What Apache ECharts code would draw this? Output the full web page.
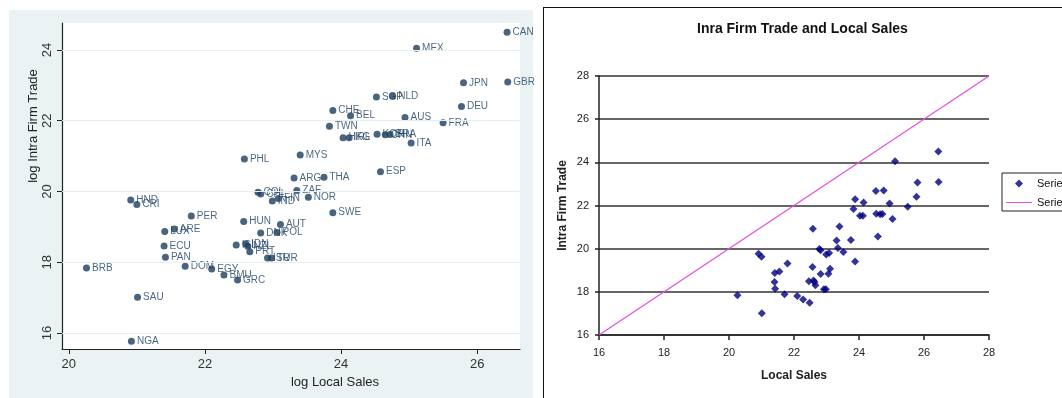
<!DOCTYPE html>
<html lang="en">
<head>
    <meta charset="UTF-8">
    <title>Intra Firm Trade and Local Sales</title>
    <script src="https://cdn.jsdelivr.net/npm/echarts@6/dist/echarts.min.js"></script>
    <style>
        * {
            margin: 0;
            padding: 0;
        }

        html,
        body {
            width: 1062px;
            height: 398px;
            background: #fff;
            overflow: hidden;
        }

        .stata-bg {
            position: absolute;
            left: 9px;
            top: 10px;
            width: 524px;
            height: 392px;
            background: #eaf2f3;
        }

        .excel-frame {
            position: absolute;
            left: 543px;
            top: 7px;
            width: 540px;
            height: 410px;
            border: 1px solid #111;
            background: #fff;
        }

        #main {
            position: absolute;
            left: 0;
            top: 0;
            width: 1062px;
            height: 398px;
        }
    </style>
</head>

<body>
    <div class="stata-bg"></div>
    <div class="excel-frame"></div>
    <div id="main"></div>
    <script>
        // (log values)
        var countries = ['CAN', 'MEX', 'JPN', 'GBR', 'SGP', 'NLD', 'DEU', 'CHE', 'BEL', 'AUS',
            'FRA', 'TWN', 'HKG', 'IRL', 'KOR', 'CHN', 'BRA', 'ITA', 'PHL', 'MYS',
            'ESP', 'ARG', 'THA', 'ZAF', 'COL', 'CHL', 'IND', 'FIN', 'NOR', 'HND',
            'CRI', 'SWE', 'PER', 'HUN', 'AUT', 'ARE', 'LUX', 'DNK', 'POL', 'ECU',
            'ISL', 'IDN', 'NZL', 'PRT', 'PAN', 'ISR', 'TUR', 'BRB', 'DOM', 'EGY',
            'BMU', 'GRC', 'SAU', 'NGA'];
        var localSales = [26.44, 25.11, 25.80, 26.45, 24.52, 24.76, 25.77, 23.88, 24.14, 24.94,
            25.50, 23.83, 24.03, 24.12, 24.53, 24.65, 24.72, 25.03, 22.58, 23.40,
            24.58, 23.31, 23.75, 23.35, 22.78, 22.82, 22.99, 23.08, 23.52, 20.91,
            21.00, 23.88, 21.80, 22.57, 23.11, 21.55, 21.41, 22.82, 23.06, 21.40,
            22.46, 22.60, 22.63, 22.66, 21.42, 22.92, 22.98, 20.26, 21.71, 22.10,
            22.28, 22.48, 21.01, 20.92];
        var intraFirmTrade = [24.50, 24.05, 23.07, 23.09, 22.67, 22.70, 22.40, 22.29, 22.14, 22.09,
            21.94, 21.84, 21.52, 21.52, 21.62, 21.60, 21.61, 21.37, 20.92, 21.03,
            20.56, 20.38, 20.40, 20.03, 19.98, 19.93, 19.73, 19.80, 19.84, 19.76,
            19.63, 19.40, 19.31, 19.15, 19.07, 18.94, 18.87, 18.83, 18.84, 18.46,
            18.49, 18.52, 18.45, 18.30, 18.14, 18.12, 18.12, 17.84, 17.89, 17.81,
            17.64, 17.50, 17.01, 15.77];

        // 45 degree reference line (Series2)
        var lineX = [16, 28];
        var lineY = [16, 28];

        var stataTicksX = [20, 22, 24, 26];
        var stataTicksY = [16, 18, 20, 22, 24];

        var labelled = countries.map(function (c, i) {
            return { name: c, value: [localSales[i], intraFirmTrade[i]] };
        });
        var plain = countries.map(function (c, i) {
            return [localSales[i], intraFirmTrade[i]];
        });
        var refLine = lineX.map(function (x, i) {
            return [x, lineY[i]];
        });

        var navy = '#1c3d5e';
        var myChart = echarts.init(document.getElementById('main'));

        myChart.setOption({
            animation: false,
            textStyle: { fontFamily: 'Liberation Sans, Arial, sans-serif' },
            title: {
                text: 'Inra Firm Trade and Local Sales',
                left: 697,
                top: 22,
                padding: 0,
                textStyle: { fontSize: 14, fontWeight: 'bold', color: '#111' }
            },
            legend: {
                data: [
                    { name: 'Series1', icon: 'path://M5,0L10,5L5,10L0,5Z' },
                    { name: 'Series2', icon: 'path://M0,0H26V1H0Z' }
                ],
                orient: 'vertical',
                left: 1002,
                top: 173,
                padding: [5, 5, 3, 4],
                itemGap: 8,
                itemWidth: 26,
                itemHeight: 8,
                symbolKeepAspect: true,
                borderColor: '#222',
                borderWidth: 1,
                textStyle: { fontSize: 11, color: '#111' }
            },
            grid: [
                { left: 62, top: 23, width: 458, height: 326, show: true, backgroundColor: '#fff', borderWidth: 0 },
                { left: 599, top: 76, width: 390, height: 259 }
            ],
            xAxis: [
                {
                    gridIndex: 0,
                    type: 'value',
                    min: 19.9,
                    max: 26.63,
                    name: 'log Local Sales',
                    nameLocation: 'middle',
                    nameGap: 26,
                    nameTextStyle: { fontSize: 13, color: '#222', padding: [0, 0, 0, 88] },
                    axisLine: { show: true, onZero: false, lineStyle: { color: '#222', width: 1.2 } },
                    axisTick: { show: true, length: 5, customValues: stataTicksX, lineStyle: { color: '#222' } },
                    axisLabel: { customValues: stataTicksX, fontSize: 13, color: '#333', margin: 9 },
                    splitLine: { show: false }
                },
                {
                    gridIndex: 1,
                    type: 'value',
                    min: 16,
                    max: 28,
                    interval: 2,
                    name: 'Local Sales',
                    nameLocation: 'middle',
                    nameGap: 35,
                    nameTextStyle: { fontSize: 12, fontWeight: 'bold', color: '#222' },
                    axisLine: { show: true, onZero: false, lineStyle: { color: '#222', width: 1.5 } },
                    axisTick: { show: true, length: 5, lineStyle: { color: '#222', width: 1.5 } },
                    axisLabel: { fontSize: 11, color: '#222', margin: 12 },
                    splitLine: { show: false }
                }
            ],
            yAxis: [
                {
                    gridIndex: 0,
                    type: 'value',
                    min: 15.55,
                    max: 24.76,
                    name: 'log Intra Firm Trade',
                    nameLocation: 'middle',
                    nameGap: 20,
                    nameTextStyle: { fontSize: 13, color: '#222', padding: [0, 0, 0, 120] },
                    axisLine: { show: true, onZero: false, lineStyle: { color: '#222', width: 1.2 } },
                    axisTick: { show: true, length: 5, customValues: stataTicksY, lineStyle: { color: '#222' } },
                    axisLabel: { customValues: stataTicksY, rotate: 90, fontSize: 13, color: '#333', margin: 8 },
                    splitLine: { show: false }
                },
                {
                    gridIndex: 1,
                    type: 'value',
                    min: 16,
                    max: 28,
                    interval: 2,
                    name: 'Intra Firm Trade',
                    nameLocation: 'middle',
                    nameGap: 30,
                    nameTextStyle: { fontSize: 12, fontWeight: 'bold', color: '#222' },
                    axisLine: { show: true, onZero: false, lineStyle: { color: '#222', width: 1.5 } },
                    axisTick: { show: true, length: 4, lineStyle: { color: '#222', width: 1.5 } },
                    axisLabel: { fontSize: 11, color: '#222', margin: 10 },
                    splitLine: { show: true, lineStyle: { color: '#333', width: 1.5 } }
                }
            ],
            series: [
                {
                    type: 'scatter',
                    xAxisIndex: 0,
                    yAxisIndex: 0,
                    data: labelled,
                    symbolSize: 7,
                    itemStyle: { color: navy },
                    label: {
                        show: true,
                        position: 'right',
                        distance: 2,
                        formatter: '{b}',
                        fontSize: 10,
                        color: navy
                    },
                    markLine: {
                        silent: true,
                        symbol: 'none',
                        label: { show: false },
                        lineStyle: { color: '#e6eef0', type: 'solid', width: 1 },
                        data: stataTicksY.map(function (v) { return { yAxis: v }; })
                    }
                },
                {
                    name: 'Series1',
                    type: 'scatter',
                    xAxisIndex: 1,
                    yAxisIndex: 1,
                    data: plain,
                    symbol: 'diamond',
                    symbolSize: 8,
                    itemStyle: { color: '#000080' }
                },
                {
                    name: 'Series2',
                    type: 'line',
                    xAxisIndex: 1,
                    yAxisIndex: 1,
                    data: refLine,
                    symbol: 'none',
                    itemStyle: { color: '#e050e0' },
                    lineStyle: { color: '#e050e0', width: 1.2 }
                }
            ]
        });
    </script>
</body>

</html>
